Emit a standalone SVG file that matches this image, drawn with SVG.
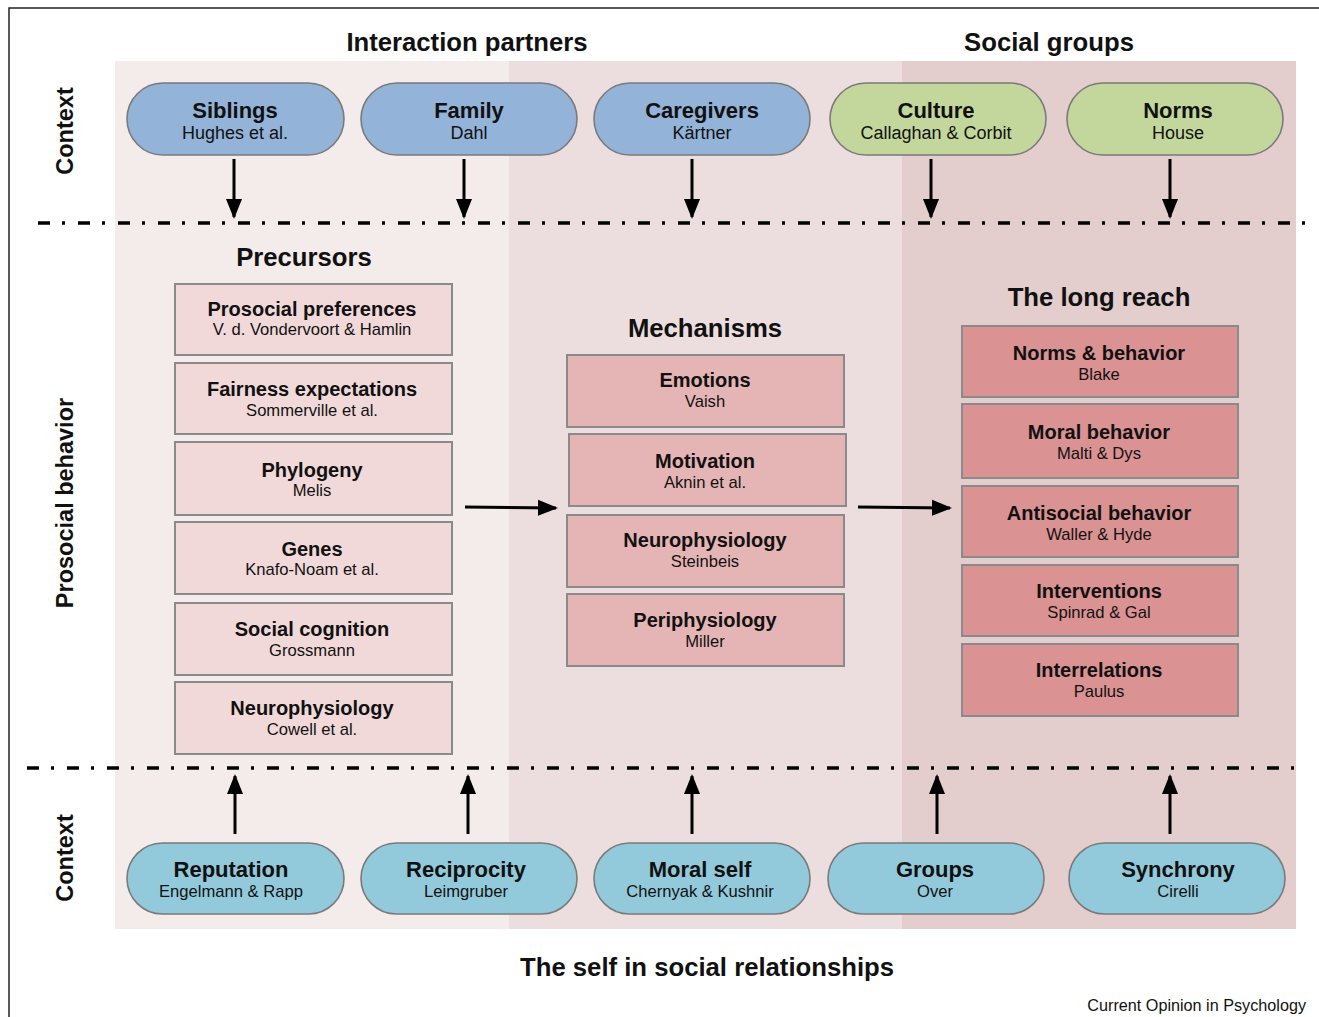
<svg xmlns="http://www.w3.org/2000/svg" width="1319" height="1017" viewBox="0 0 1319 1017">
<style>
text{font-family:"Liberation Sans",Arial,sans-serif;fill:#111}
.h{font-weight:bold;font-size:25.7px;text-anchor:middle}
.side{font-weight:bold;font-size:23.5px;text-anchor:middle}
.pt{font-weight:bold;font-size:22px;text-anchor:middle}
.ps{font-size:18px;text-anchor:middle}
.ps2{font-size:16.6px;text-anchor:middle}
.bt{font-weight:bold;font-size:20px;text-anchor:middle}
.bs{font-size:16.6px;text-anchor:middle}
.pill{stroke:#7a7a7a;stroke-width:1.6}
.blue{fill:#93b3d8}.green{fill:#c3d79c}.cyan{fill:#92cadb}
.box{stroke:#8a8a8a;stroke-width:2}
.pre{fill:#f1d9da}.mech{fill:#e5b5b5}.long{fill:#da9292}
.dd{stroke:#000;stroke-width:3.5;fill:none;stroke-dasharray:12 12 3 13}
.arr{stroke:#000;stroke-width:3;fill:none;marker-end:url(#ah)}
</style>
<defs>
<marker id="ah" markerUnits="userSpaceOnUse" markerWidth="20" markerHeight="18" viewBox="0 0 20 18" refX="18" refY="9" orient="auto">
<path d="M0,1 L20,9 L0,17 Z" fill="#000"/>
</marker>
</defs>
<rect width="1319" height="1017" fill="#fff"/>
<path d="M9,1017 V8 H1319" fill="none" stroke="#222" stroke-width="1.5"/>
<g id="bands">
<rect x="115" y="61" width="394" height="868" fill="#f4ecea"/>
<rect x="509" y="61" width="393" height="868" fill="#ecdede"/>
<rect x="902" y="61" width="394" height="868" fill="#e3cdcd"/>
</g>
<g id="labels">
<text class="h" x="467" y="51">Interaction partners</text>
<text class="h" x="1049" y="51">Social groups</text>
<text class="side" transform="translate(73,131) rotate(-90)">Context</text>
<text class="side" transform="translate(73,503) rotate(-90)">Prosocial behavior</text>
<text class="side" transform="translate(73,858) rotate(-90)">Context</text>
<text class="h" x="304" y="266">Precursors</text>
<text class="h" x="705" y="337">Mechanisms</text>
<text class="h" x="1099" y="306">The long reach</text>
<text class="h" x="707" y="976">The self in social relationships</text>
<text x="1306" y="1011" style="font-size:16.2px;text-anchor:end">Current Opinion in Psychology</text>
</g>
<g id="dividers">
<line class="dd" x1="38" y1="223" x2="1306" y2="223"/>
<line class="dd" x1="27" y1="768" x2="1296" y2="768"/>
</g>
<g id="n-siblings"><rect class="pill blue" x="127" y="83" width="217" height="72" rx="36"/><text class="pt" x="235" y="118">Siblings</text><text class="ps" x="235" y="139">Hughes et al.</text></g>
<g id="n-family"><rect class="pill blue" x="361" y="83" width="216" height="72" rx="36"/><text class="pt" x="469" y="118">Family</text><text class="ps" x="469" y="139">Dahl</text></g>
<g id="n-caregivers"><rect class="pill blue" x="594" y="83" width="216" height="72" rx="36"/><text class="pt" x="702" y="118">Caregivers</text><text class="ps" x="702" y="139">Kärtner</text></g>
<g id="n-culture"><rect class="pill green" x="830" y="83" width="216" height="72" rx="36"/><text class="pt" x="936" y="118">Culture</text><text class="ps" x="936" y="139">Callaghan &amp; Corbit</text></g>
<g id="n-norms"><rect class="pill green" x="1067" y="83" width="216" height="72" rx="36"/><text class="pt" x="1178" y="118">Norms</text><text class="ps" x="1178" y="139">House</text></g>
<g id="n-reputation"><rect class="pill cyan" x="127" y="843" width="217" height="71" rx="35.5"/><text class="pt" x="231" y="877">Reputation</text><text class="ps2" x="231" y="897">Engelmann &amp; Rapp</text></g>
<g id="n-reciprocity"><rect class="pill cyan" x="361" y="843" width="216" height="71" rx="35.5"/><text class="pt" x="466" y="877">Reciprocity</text><text class="ps2" x="466" y="897">Leimgruber</text></g>
<g id="n-moralself"><rect class="pill cyan" x="594" y="843" width="216" height="71" rx="35.5"/><text class="pt" x="700" y="877">Moral self</text><text class="ps2" x="700" y="897">Chernyak &amp; Kushnir</text></g>
<g id="n-groups"><rect class="pill cyan" x="828" y="843" width="216" height="71" rx="35.5"/><text class="pt" x="935" y="877">Groups</text><text class="ps2" x="935" y="897">Over</text></g>
<g id="n-synchrony"><rect class="pill cyan" x="1069" y="843" width="216" height="71" rx="35.5"/><text class="pt" x="1178" y="877">Synchrony</text><text class="ps2" x="1178" y="897">Cirelli</text></g>
<g id="n-prosocial"><rect class="box pre" x="175" y="284" width="277" height="71"/><text class="bt" x="312" y="316">Prosocial preferences</text><text class="bs" x="312" y="335">V. d. Vondervoort &amp; Hamlin</text></g>
<g id="n-fairness"><rect class="box pre" x="175" y="363" width="277" height="71"/><text class="bt" x="312" y="396">Fairness expectations</text><text class="bs" x="312" y="416">Sommerville et al.</text></g>
<g id="n-phylogeny"><rect class="box pre" x="175" y="442" width="277" height="73"/><text class="bt" x="312" y="477">Phylogeny</text><text class="bs" x="312" y="496">Melis</text></g>
<g id="n-genes"><rect class="box pre" x="175" y="522" width="277" height="72"/><text class="bt" x="312" y="556">Genes</text><text class="bs" x="312" y="575">Knafo-Noam et al.</text></g>
<g id="n-socialcog"><rect class="box pre" x="175" y="603" width="277" height="72"/><text class="bt" x="312" y="636">Social cognition</text><text class="bs" x="312" y="656">Grossmann</text></g>
<g id="n-neuro1"><rect class="box pre" x="175" y="682" width="277" height="72"/><text class="bt" x="312" y="715">Neurophysiology</text><text class="bs" x="312" y="735">Cowell et al.</text></g>
<g id="n-emotions"><rect class="box mech" x="567" y="355" width="277" height="72"/><text class="bt" x="705" y="387">Emotions</text><text class="bs" x="705" y="407">Vaish</text></g>
<g id="n-motivation"><rect class="box mech" x="569" y="434" width="277" height="72"/><text class="bt" x="705" y="468">Motivation</text><text class="bs" x="705" y="488">Aknin et al.</text></g>
<g id="n-neuro2"><rect class="box mech" x="567" y="515" width="277" height="72"/><text class="bt" x="705" y="547">Neurophysiology</text><text class="bs" x="705" y="567">Steinbeis</text></g>
<g id="n-periph"><rect class="box mech" x="567" y="594" width="277" height="72"/><text class="bt" x="705" y="627">Periphysiology</text><text class="bs" x="705" y="647">Miller</text></g>
<g id="n-normsbeh"><rect class="box long" x="962" y="326" width="276" height="71"/><text class="bt" x="1099" y="360">Norms &amp; behavior</text><text class="bs" x="1099" y="380">Blake</text></g>
<g id="n-moralbeh"><rect class="box long" x="962" y="404" width="276" height="74"/><text class="bt" x="1099" y="439">Moral behavior</text><text class="bs" x="1099" y="459">Malti &amp; Dys</text></g>
<g id="n-antisocial"><rect class="box long" x="962" y="486" width="276" height="71"/><text class="bt" x="1099" y="520">Antisocial behavior</text><text class="bs" x="1099" y="540">Waller &amp; Hyde</text></g>
<g id="n-interventions"><rect class="box long" x="962" y="565" width="276" height="71"/><text class="bt" x="1099" y="598">Interventions</text><text class="bs" x="1099" y="618">Spinrad &amp; Gal</text></g>
<g id="n-interrelations"><rect class="box long" x="962" y="644" width="276" height="72"/><text class="bt" x="1099" y="677">Interrelations</text><text class="bs" x="1099" y="697">Paulus</text></g>
<g id="connectors">
<line class="arr" x1="234" y1="159" x2="234" y2="217"/>
<line class="arr" x1="464" y1="159" x2="464" y2="217"/>
<line class="arr" x1="692" y1="159" x2="692" y2="217"/>
<line class="arr" x1="931" y1="159" x2="931" y2="217"/>
<line class="arr" x1="1170" y1="159" x2="1170" y2="217"/>
<line class="arr" x1="235" y1="834" x2="235" y2="776"/>
<line class="arr" x1="468" y1="834" x2="468" y2="776"/>
<line class="arr" x1="692" y1="834" x2="692" y2="776"/>
<line class="arr" x1="937" y1="834" x2="937" y2="776"/>
<line class="arr" x1="1170" y1="834" x2="1170" y2="776"/>
<line class="arr" x1="465" y1="507" x2="556" y2="508"/>
<line class="arr" x1="858" y1="507" x2="950" y2="508"/>
</g>
</svg>
